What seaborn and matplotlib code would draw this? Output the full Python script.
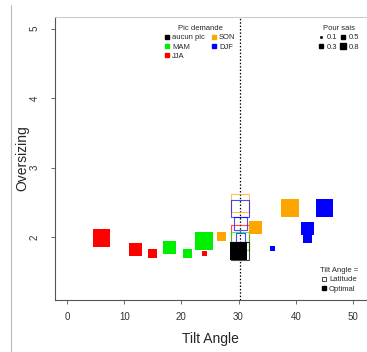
import pandas as pd
import matplotlib.pyplot as plt
import seaborn as sns
from matplotlib.lines import Line2D

# optimal tilt angle (filled squares)
opt_season = ['JJA', 'JJA', 'JJA', 'MAM', 'MAM', 'MAM', 'JJA', 'SON', 'aucun pic',
              'SON', 'DJF', 'DJF', 'DJF', 'DJF', 'SON']
opt_tilt = [6, 12, 15, 18, 21, 24, 24, 27, 30, 39, 45, 42, 42, 36, 33]
opt_oversizing = [1.98, 1.82, 1.76, 1.84, 1.76, 1.94, 1.76, 2.01, 1.80,
                  2.42, 2.42, 2.12, 1.97, 1.83, 2.14]
opt_sais = [0.8, 0.5, 0.3, 0.5, 0.3, 0.8, 0.1, 0.3, 0.8, 0.8, 0.8, 0.5, 0.3, 0.1, 0.5]

# tilt = latitude (open squares)
latitude = 30.3
lat_season = ['SON', 'DJF', 'DJF', 'JJA', 'MAM', 'DJF', 'aucun pic']
lat_oversizing = [2.49, 2.41, 2.19, 2.05, 1.94, 1.99, 1.80]
lat_sais = [0.8, 0.8, 0.5, 0.8, 0.8, 0.3, 0.8]

seasons = ['aucun pic', 'MAM', 'JJA', 'SON', 'DJF']
colors = {'aucun pic': 'black', 'MAM': '#00ee00', 'JJA': '#ff0000',
          'SON': '#ffa500', 'DJF': '#0000ff'}
sais_levels = [0.1, 0.3, 0.5, 0.8]
sizes = {0.1: 13, 0.3: 42, 0.5: 88, 0.8: 160}

opt = pd.DataFrame({'tilt': opt_tilt, 'oversizing': opt_oversizing,
                    'season': opt_season, 'sais': opt_sais})
lat = pd.DataFrame({'tilt': [latitude] * len(lat_season), 'oversizing': lat_oversizing,
                    'season': lat_season, 'sais': lat_sais})

sns.set_theme(style='ticks', rc={'axes.facecolor': 'white', 'figure.facecolor': 'white'})
plt.rcParams['font.family'] = ['Liberation Sans', 'DejaVu Sans']

fig = plt.figure(figsize=(3.67, 3.52), dpi=100)
ax = fig.add_axes([55 / 367, 52 / 352, 310.5 / 367, 283 / 352])

ax.axvline(latitude, color='black', linestyle=(0, (1.2, 1.5)), linewidth=0.9, zorder=1)

# open squares drawn first so the filled ones sit on top
sns.scatterplot(data=lat, x='tilt', y='oversizing', hue='season', palette=colors,
                size='sais', sizes=sizes, marker='s', linewidth=0.8, legend=False,
                ax=ax, zorder=2)
pts = ax.collections[-1]
pts.set_edgecolors(pts.get_facecolors())
pts.set_facecolors('none')
pts.set_alpha(0.7)

sns.scatterplot(data=opt, x='tilt', y='oversizing', hue='season', palette=colors,
                size='sais', sizes=sizes, marker='s', linewidth=0, legend=False,
                ax=ax, zorder=3)

ax.set_xlim(-2.1, 52.2)
ax.set_ylim(1.09, 5.17)
ax.set_xticks([0, 10, 20, 30, 40, 50])
ax.set_yticks([2, 3, 4, 5])
ax.tick_params(axis='both', labelsize=7, length=3, width=0.6, color='#555555',
               labelcolor='#333333')
ax.tick_params(axis='x', pad=6)
ax.tick_params(axis='y', pad=8)
for lab in ax.get_yticklabels():
    lab.set_rotation(90)
    lab.set_va('center')
ax.set_xlabel('Tilt Angle', fontsize=10, labelpad=7)
ax.set_ylabel('Oversizing', fontsize=10)
ax.yaxis.set_label_coords(-0.083, 0.5)
ax.spines['left'].set_color('#555555')
ax.spines['bottom'].set_color('#555555')
ax.spines['top'].set_color('#cccccc')
ax.spines['top'].set_visible(True)
ax.spines['right'].set_visible(False)
for s in ['left', 'bottom', 'top']:
    ax.spines[s].set_linewidth(0.8)

# legends in the R style
h1 = [Line2D([], [], marker='s', linestyle='', color=colors[s], markersize=3) for s in seasons]
leg1 = ax.legend(h1, seasons, title='Pic demande', ncol=2, loc='upper center',
                 bbox_to_anchor=(0.467, 0.985), frameon=False, fontsize=5.5,
                 title_fontsize=5.5, handlelength=0.6, handletextpad=0.4,
                 columnspacing=0.8, labelspacing=0.25, borderpad=0)
ax.add_artist(leg1)

sais_ms = {0.1: 1.0, 0.3: 2.3, 0.5: 3.1, 0.8: 4.3}
h2 = [Line2D([], [], marker='s', linestyle='', color='black', markersize=sais_ms[v])
      for v in sais_levels]
leg2 = ax.legend(h2, [str(v) for v in sais_levels], title='Pour sais', ncol=2,
                 loc='upper center', bbox_to_anchor=(0.915, 0.985), frameon=False,
                 fontsize=5.5, title_fontsize=5.5, handlelength=0.6, handletextpad=0.4,
                 columnspacing=0.5, labelspacing=0.25, borderpad=0)
ax.add_artist(leg2)

h3 = [Line2D([], [], marker='s', linestyle='', markerfacecolor='none',
             markeredgecolor='black', markeredgewidth=0.5, markersize=3),
      Line2D([], [], marker='s', linestyle='', color='black', markersize=3)]
ax.legend(h3, ['Latitude', 'Optimal'], title='Tilt Angle =', loc='upper center',
          bbox_to_anchor=(0.915, 0.13), frameon=False, fontsize=5.5,
          title_fontsize=5.5, handlelength=0.6, handletextpad=0.4,
          labelspacing=0.25, borderpad=0)

fig.add_artist(Line2D([11 / 367, 11 / 367], [0, 347 / 352], color='#bbbbbb', linewidth=0.8))

plt.savefig('out.png', dpi=100)
